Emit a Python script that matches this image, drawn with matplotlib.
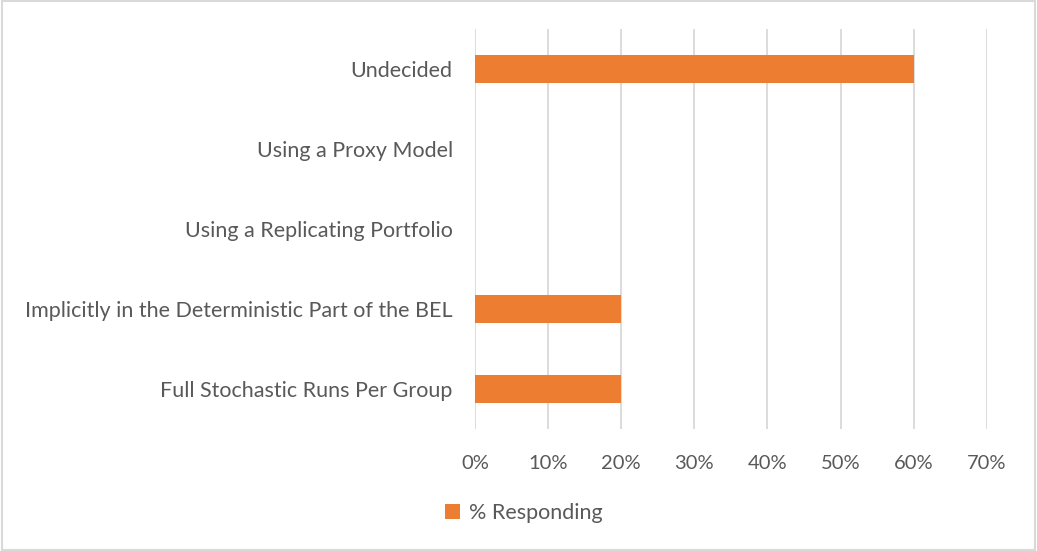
import matplotlib
matplotlib.use("Agg")
from matplotlib import pyplot as plt
from matplotlib.patches import Rectangle
from matplotlib.ticker import PercentFormatter
#
# data
# ---------------------------------
#
categories = ["Full Stochastic Runs Per Group",
              "Implicitly in the Deterministic Part of the BEL",
              "Using a Replicating Portfolio",
              "Using a Proxy Model",
              "Undecided"]
responding = [20, 20, 0, 0, 60]
xticks = [0, 10, 20, 30, 40, 50, 60, 70]
series_name = "% Responding"

plt.rcParams['font.family'] = ['Lato', 'DejaVu Sans']
grey = '#595959'
orange = '#ED7D31'

fig = plt.figure(figsize=(10.37, 5.51), dpi=100)
ax = fig.add_axes([0.458, 0.2214, 0.4937, 0.7258])

ax.barh(categories, responding, height=0.34, color=orange, label=series_name, zorder=3)
ax.set_xlim(0, 70)
ax.set_ylim(-0.5, 4.5)
ax.set_xticks(xticks)
ax.xaxis.set_major_formatter(PercentFormatter(decimals=0))
ax.grid(axis='x', color='#D9D9D9', linewidth=1.3, zorder=0)
for s in ax.spines.values():
    s.set_visible(False)
ax.tick_params(axis='both', length=0, labelcolor=grey)
ax.tick_params(axis='x', pad=19, labelsize=14.5)
ax.tick_params(axis='y', pad=16, labelsize=15.5)

leg = fig.legend(loc='center', bbox_to_anchor=(0.505, 0.069), frameon=False,
                 fontsize=15.5, handlelength=0.7, handleheight=0.7,
                 handletextpad=0.4)
for t in leg.get_texts():
    t.set_color(grey)

# light chart border
fig.patches.append(Rectangle((0.002, 0.002), 0.996, 0.996, transform=fig.transFigure,
                             fill=False, edgecolor='#D9D9D9', linewidth=1.5))

fig.savefig("out.png", dpi=100)
